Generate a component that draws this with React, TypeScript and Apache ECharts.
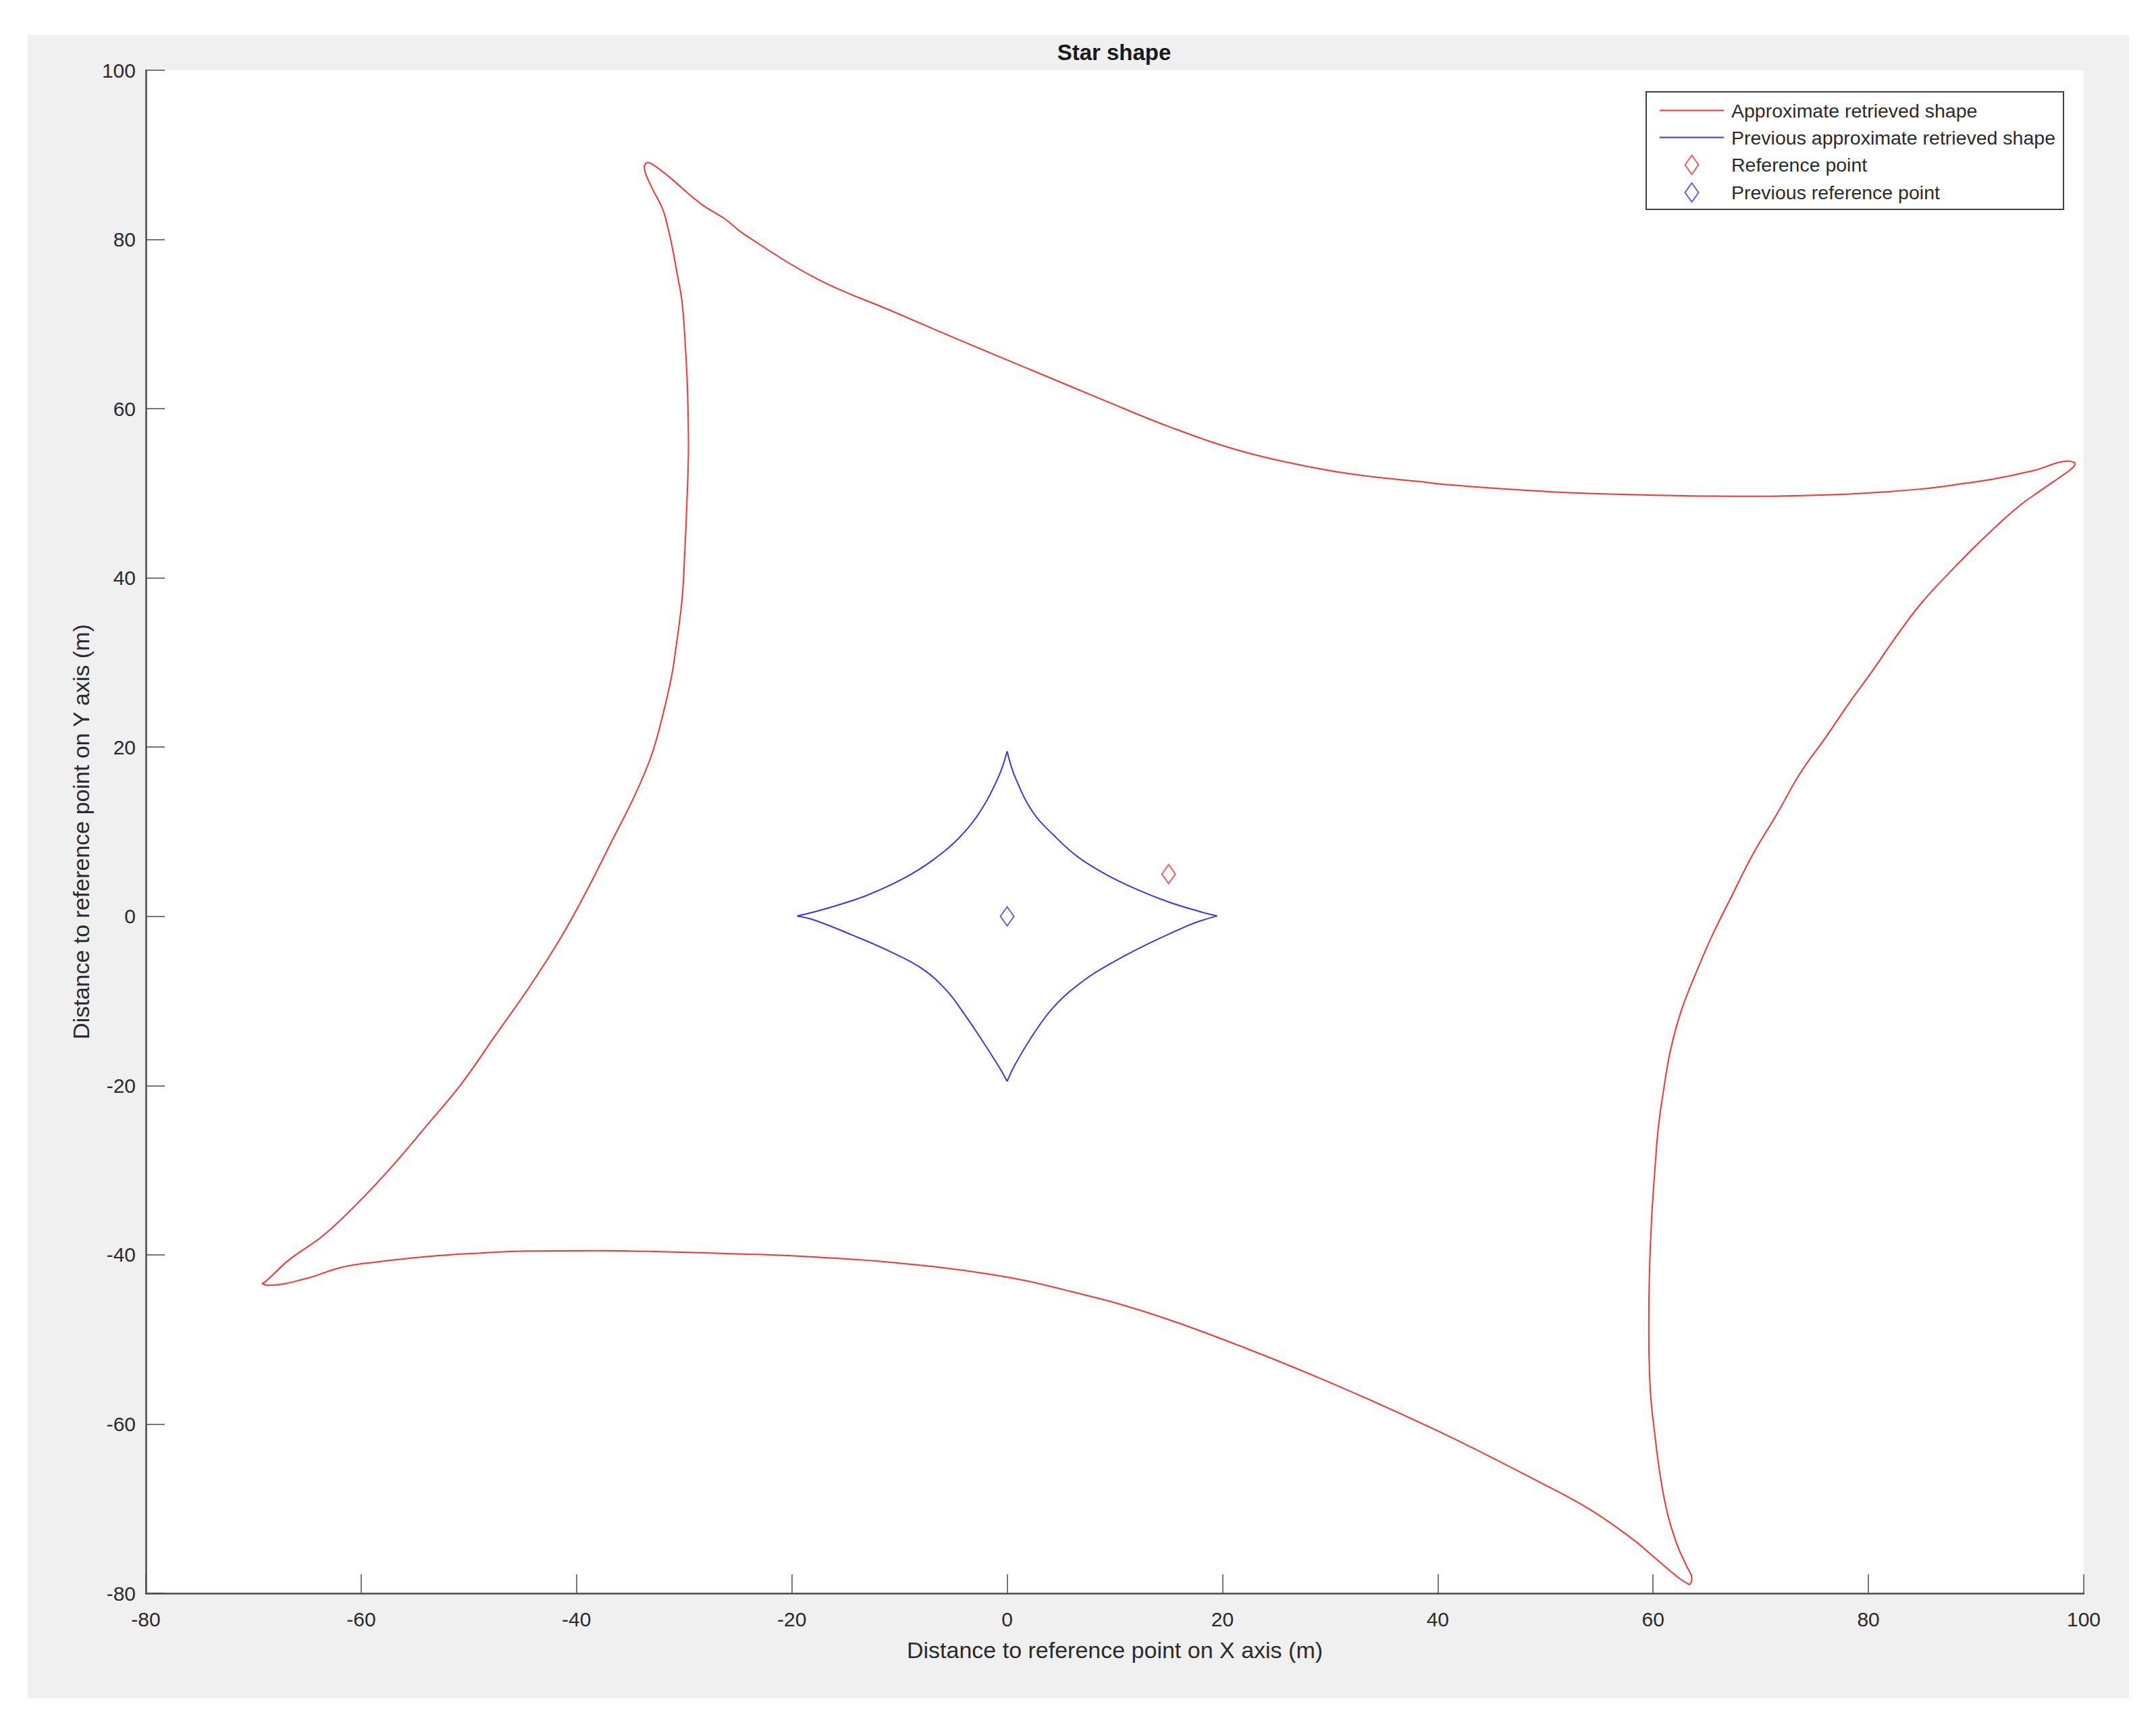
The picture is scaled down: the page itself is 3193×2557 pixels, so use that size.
import React, { useEffect, useRef } from "react";
import * as echarts from "echarts";

// ---------- data ----------
const xTickValues = [-80, -60, -40, -20, 0, 20, 40, 60, 80, 100];
const yTickValues = [-80, -60, -40, -20, 0, 20, 40, 60, 80, 100];

// Red shape, traced clockwise between its four cusps
const redTopEdge: number[][] = [
  [-33.5, 89.1], [-33.1, 89.0], [-31.3, 87.3], [-29.5, 85.3], [-28.1, 83.9],
  [-26.3, 82.5], [-24.4, 80.6], [-17.6, 75.3], [-11.0, 71.7], [-4.4, 68.1],
  [2.2, 64.6], [8.8, 61.1], [15.4, 57.7], [22.0, 54.9], [28.6, 53.0],
  [33.0, 52.1], [38.2, 51.4], [41.1, 51.0], [50.3, 50.2], [59.5, 49.8],
  [68.7, 49.65], [77.9, 49.9], [84.8, 50.5], [89.1, 51.2], [91.7, 51.7],
  [95.4, 52.7], [98.6, 53.8], [99.2, 53.6],
];
const redRightEdge: number[][] = [
  [99.1, 53.2], [98.4, 52.45], [96.3, 50.6], [93.9, 48.4], [90.7, 44.7],
  [87.5, 40.6], [84.9, 37.0], [82.7, 33.3], [80.5, 29.25], [78.2, 25.2],
  [76.0, 21.1], [73.7, 17.0], [71.5, 12.1], [69.25, 7.3], [67.3, 2.4],
  [65.4, -2.5], [63.75, -7.4], [62.55, -11.4], [61.6, -15.9], [61.0, -20.3],
  [60.5, -24.8], [60.2, -29.3], [59.85, -36.0], [59.65, -42.7], [59.6, -49.4],
  [59.75, -56.2], [60.1, -60.6], [60.7, -66.45], [61.4, -70.9], [62.3, -74.5],
  [63.1, -76.75], [63.6, -78.3], [63.4, -79.0],
];
const redBottomEdge: number[][] = [
  [62.3, -78.1], [60.2, -75.85], [58.1, -73.6], [54.0, -70.0], [49.5, -66.9],
  [40.3, -61.0], [31.1, -55.7], [21.9, -50.9], [12.7, -46.7], [5.35, -44.15],
  [-1.1, -42.4], [-10.3, -40.95], [-19.5, -40.15], [-24.6, -39.9], [-31.5, -39.65],
  [-37.9, -39.5], [-44.3, -39.55], [-49.1, -39.8], [-53.9, -40.2], [-58.7, -40.86],
  [-61.9, -41.5], [-65.1, -42.8], [-68.65, -43.6], [-69.2, -43.4],
];
const redLeftEdge: number[][] = [
  [-68.75, -43.0], [-66.7, -40.6], [-63.5, -37.7], [-60.3, -33.85], [-57.1, -29.5],
  [-53.9, -24.7], [-50.7, -19.8], [-47.5, -14.0], [-44.3, -8.2], [-41.4, -2.4],
  [-38.9, 3.4], [-36.6, 9.2], [-34.7, 14.0], [-33.1, 18.8], [-32.0, 23.7],
  [-31.15, 28.5], [-30.8, 31.4], [-30.2, 37.4], [-29.95, 42.9], [-29.75, 48.8],
  [-29.6, 55.7], [-29.7, 62.6], [-29.9, 67.6], [-30.2, 72.65], [-30.7, 76.3],
  [-31.1, 79.05], [-31.5, 81.35], [-32.0, 83.6], [-33.1, 86.4], [-33.7, 88.6],
  [-33.5, 89.1],
];

// Blue star (previous shape), four arcs between its tips, clockwise from the top
const blueTopRight: number[][] = [
  [0, 19.5], [0.73, 16.5], [2.4, 12.3], [4.4, 9.5], [6.6, 7.0], [9.4, 4.8],
  [12.2, 3.1], [15.0, 1.7], [17.8, 0.6], [19.5, 0.05],
];
const blueBottomRight: number[][] = [
  [19.5, 0.05], [17.8, -0.6], [16.4, -1.3], [13.0, -3.3], [10.0, -5.3],
  [7.2, -7.5], [4.4, -10.6], [2.4, -14.0], [0.7, -17.6], [0, -19.5],
];
const blueBottomLeft: number[][] = [
  [0, -19.5], [-0.7, -17.9], [-2.1, -15.1], [-4.0, -11.5], [-5.7, -8.65],
  [-8.0, -6.1], [-10.8, -4.2], [-14.4, -2.2], [-18.0, -0.4], [-19.5, 0.05],
];
const blueTopLeft: number[][] = [
  [-19.5, 0.05], [-18.0, 0.5], [-15.8, 1.3], [-13.0, 2.5], [-9.6, 4.5],
  [-6.85, 6.7], [-4.3, 9.5], [-2.4, 12.6], [-0.8, 16.5], [0, 19.5],
];

const referencePoint: number[][] = [[15, 5]];
const previousReferencePoint: number[][] = [[0, 0]];

const seriesNames = [
  "Approximate retrieved shape",
  "Previous approximate retrieved shape",
  "Reference point",
  "Previous reference point",
];

// ---------- styles ----------
const RED = "#ff3030";
const BLUE = "#3535ff";
const FONT = "'Liberation Sans', Arial, Helvetica, sans-serif";
const AXIS_COLOR = "#4a4a4a";
const TEXT_COLOR = "#2b2b2b";
const DIAMOND_ICON = "path://M10,0 L20,14 L10,28 L0,14 Z";

const last = (a: number[][]) => a[a.length - 1];

export default function App() {
  const ref = useRef<HTMLDivElement | null>(null);

  useEffect(() => {
    if (!ref.current) return;
    const chart = echarts.init(ref.current, undefined, { renderer: "svg" });

    // each arc runs from one cusp to the next, so the cusps stay sharp
    const redArcs = [
      redTopEdge,
      [last(redTopEdge), ...redRightEdge],
      [last(redRightEdge), ...redBottomEdge],
      [last(redBottomEdge), ...redLeftEdge],
    ];
    const blueArcs = [blueTopRight, blueBottomRight, blueBottomLeft, blueTopLeft];

    const arcSeries = (name: string, arcs: number[][][], color: string) =>
      arcs.map((arc) => ({
        name,
        type: "line",
        data: arc,
        symbol: "none",
        showSymbol: false,
        smooth: 0.4,
        lineStyle: { color, width: 2 },
        itemStyle: { color },
      }));

    const axisCommon = {
      type: "value" as const,
      min: -80,
      max: 100,
      interval: 20,
      nameLocation: "middle" as const,
      nameTextStyle: { fontSize: 34, color: TEXT_COLOR, fontFamily: FONT },
      axisLine: { show: true, onZero: false, lineStyle: { color: AXIS_COLOR, width: 2.5 } },
      axisTick: { show: true, inside: true, length: 28, lineStyle: { color: AXIS_COLOR, width: 1.5 } },
      splitLine: { show: false },
    };

    chart.setOption({
      animation: false,
      backgroundColor: "#f0f0f0",
      title: {
        text: "Star shape",
        left: 1609,
        top: 9,
        padding: 0,
        textAlign: "center",
        textStyle: { fontSize: 33, fontWeight: "bold", color: "#1a1a1a", fontFamily: FONT },
      },
      grid: {
        left: 175,
        top: 52,
        width: 2870,
        height: 2255,
        show: true,
        backgroundColor: "#ffffff",
        borderWidth: 0,
        containLabel: false,
      },
      xAxis: {
        ...axisCommon,
        name: "Distance to reference point on X axis (m)",
        nameGap: 67,
        axisLabel: {
          fontSize: 30,
          color: TEXT_COLOR,
          fontFamily: FONT,
          margin: 23,
          formatter: (v: number) => (xTickValues.includes(v) ? String(v) : ""),
        },
      },
      yAxis: {
        ...axisCommon,
        name: "Distance to reference point on Y axis (m)",
        nameGap: 79,
        axisLabel: {
          fontSize: 30,
          color: TEXT_COLOR,
          fontFamily: FONT,
          margin: 15,
          formatter: (v: number) => (yTickValues.includes(v) ? String(v) : ""),
        },
      },
      legend: {
        orient: "vertical",
        left: 2397,
        top: 84,
        padding: [13, 12, 10, 19],
        itemWidth: 95,
        itemHeight: 28,
        itemGap: 11,
        backgroundColor: "#ffffff",
        borderColor: "#404040",
        borderWidth: 2,
        borderRadius: 0,
        selectedMode: false,
        symbolKeepAspect: true,
        textStyle: { fontSize: 28.5, color: TEXT_COLOR, fontFamily: FONT, padding: [0, 0, 0, 6] },
        data: [
          { name: seriesNames[0], itemStyle: { color: "transparent", borderWidth: 0 } },
          { name: seriesNames[1], itemStyle: { color: "transparent", borderWidth: 0 } },
          {
            name: seriesNames[2],
            icon: DIAMOND_ICON,
            itemStyle: { color: "transparent", borderColor: RED, borderWidth: 2 },
          },
          {
            name: seriesNames[3],
            icon: DIAMOND_ICON,
            itemStyle: { color: "transparent", borderColor: BLUE, borderWidth: 2 },
          },
        ],
      },
      series: [
        ...arcSeries(seriesNames[0], redArcs, RED),
        ...arcSeries(seriesNames[1], blueArcs, BLUE),
        {
          name: seriesNames[2],
          type: "scatter",
          data: referencePoint,
          symbol: "diamond",
          symbolSize: [20, 28],
          itemStyle: { color: "transparent", borderColor: RED, borderWidth: 2 },
        },
        {
          name: seriesNames[3],
          type: "scatter",
          data: previousReferencePoint,
          symbol: "diamond",
          symbolSize: [20, 28],
          itemStyle: { color: "transparent", borderColor: BLUE, borderWidth: 2 },
        },
      ],
    });

    return () => {
      chart.dispose();
    };
  }, []);

  return (
    <div
      style={{
        position: "absolute",
        left: 0,
        top: 0,
        width: 3193,
        height: 2557,
        background: "#ffffff",
        overflow: "hidden",
      }}
    >
      <div
        ref={ref}
        style={{ position: "absolute", left: 41, top: 52, width: 3112, height: 2462 }}
      />
    </div>
  );
}
